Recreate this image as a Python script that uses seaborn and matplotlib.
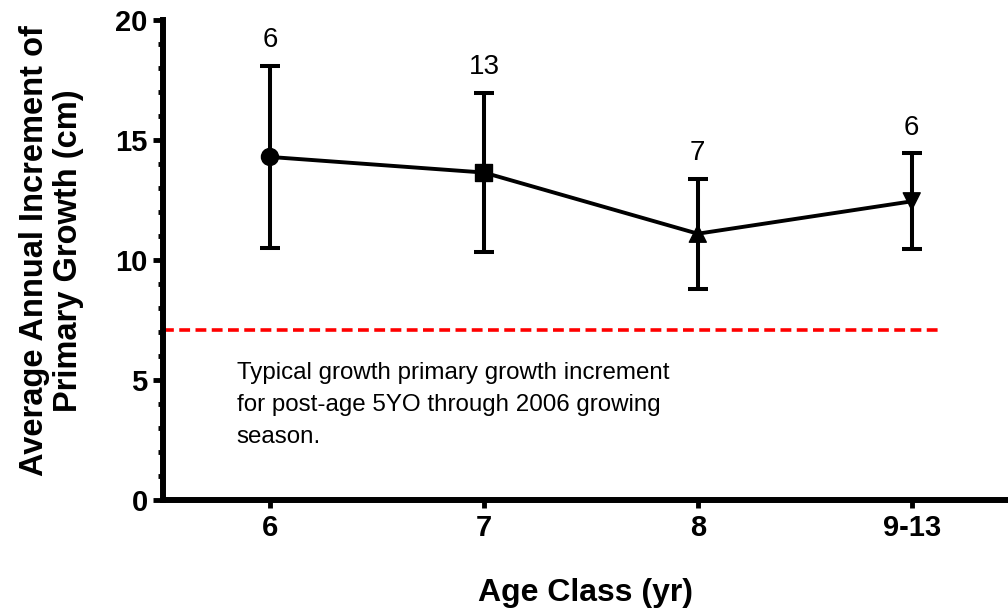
import numpy as np
import pandas as pd
import matplotlib
matplotlib.use('Agg')
import matplotlib.pyplot as plt
import seaborn as sns
from matplotlib.ticker import MultipleLocator

# Data
age_class = ['6', '7', '8', '9-13']
mean_growth = [14.3, 13.65, 11.1, 12.45]
err_growth = [3.8, 3.33, 2.3, 2.0]
n_trees = [6, 13, 7, 6]
markers = ['o', 's', '^', 'v']
typical_increment = 7.1

df = pd.DataFrame({'age': age_class, 'growth': mean_growth})

sns.set_style('white')
plt.rcParams['font.family'] = ['Liberation Sans', 'DejaVu Sans']
plt.rcParams['text.color'] = 'black'
plt.rcParams['axes.labelcolor'] = 'black'
plt.rcParams['xtick.color'] = 'black'
plt.rcParams['ytick.color'] = 'black'

fig = plt.figure(figsize=(10.08, 6.12), dpi=100)
ax = fig.add_axes([0.1617, 0.183, 0.8383, 0.784])

# Connecting line
sns.lineplot(data=df, x='age', y='growth', color='black', linewidth=2.8,
             sort=False, ax=ax, zorder=3)

# Error bars and markers
ax.errorbar(age_class, mean_growth, yerr=err_growth, fmt='none', ecolor='black',
            elinewidth=2.9, capsize=7, capthick=2.9, zorder=2)
sns.scatterplot(data=df, x='age', y='growth', style='age', markers=markers,
                color='black', s=150, edgecolor='black', legend=False,
                ax=ax, zorder=4)

# n labels above the bars
for i, (m, e, n) in enumerate(zip(mean_growth, err_growth, n_trees)):
    ax.annotate(str(n), (i, m + e), xytext=(0, 9), textcoords='offset points',
                ha='center', va='bottom', fontsize=20)

# Typical increment line
ax.plot([-0.5, 3.13], [typical_increment, typical_increment], color='red',
        linestyle=(0, (3.0, 1.5)), linewidth=2.6, zorder=1)
ax.text(-0.155, 5.75,
        'Typical growth primary growth increment\n'
        'for post-age 5YO through 2006 growing\n'
        'season.', fontsize=17.4, va='top', ha='left', linespacing=1.6)

ax.set_xlim(-0.5, 3.45)
ax.set_ylim(0, 20)
ax.yaxis.set_major_locator(MultipleLocator(5))
ax.yaxis.set_minor_locator(MultipleLocator(1))

for side in ['top', 'right']:
    ax.spines[side].set_visible(False)
for side in ['left', 'bottom']:
    ax.spines[side].set_linewidth(4.3)
    ax.spines[side].set_color('black')

ax.tick_params(axis='both', which='major', direction='out', length=7, width=3.5,
               color='black', labelsize=21, pad=4, left=True, bottom=True)
ax.tick_params(axis='x', which='major', length=6)
ax.tick_params(axis='y', which='minor', direction='out', length=3.8, width=3.5,
               color='black', left=True)
for lbl in ax.get_xticklabels() + ax.get_yticklabels():
    lbl.set_fontweight('bold')

ax.set_xlabel('Age Class (yr)', fontsize=23, fontweight='bold', labelpad=26)
ax.set_ylabel('Average Annual Increment of\nPrimary Growth (cm)', fontsize=23.5,
              fontweight='bold', linespacing=1.15)
ax.yaxis.set_label_coords(-0.093, 0.52)

fig.savefig('out.png', dpi=100)
